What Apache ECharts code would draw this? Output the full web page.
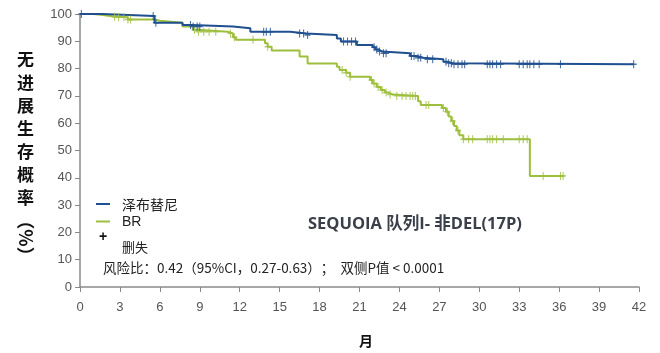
<!DOCTYPE html>
<html><head><meta charset="utf-8">
<script src="https://cdn.jsdelivr.net/npm/echarts@6/dist/echarts.min.js"></script>
<style>html,body{margin:0;padding:0;background:#fff}#c{width:660px;height:353px}</style>
</head><body><div id="c"></div>
<script>
// X axis ticks (months)
var xTicks = [0,3,6,9,12,15,18,21,24,27,30,33,36,39,42];
// Zanubrutinib KM events: time (months) and survival (%) after the step
var zanTimes = [0,1.7,5.6,7.7,8.4,11.5,12.8,15.8,17.0,19.3,19.6,20.8,22.0,22.2,22.4,22.7,24.8,25.3,25.8,27.3,27.6,28.0,41.6];
var zanSurv  = [100,99.3,96.8,96.0,95.4,94.8,93.5,92.9,92.3,91.0,89.9,88.6,87.8,87.0,86.3,85.6,84.6,84.0,83.4,82.5,82.0,81.6,81.6];
var zanCensor = [0.1,5.5,5.7,8.3,8.5,8.8,9.0,13.8,14.0,14.3,16.5,16.8,17.1,19.8,20.1,20.4,20.7,22.1,22.3,22.5,22.8,23.0,24.9,25.1,25.4,25.6,26.1,26.5,27.5,27.7,27.9,28.1,28.4,28.7,28.9,30.6,30.8,31.0,31.3,31.6,33.0,33.3,33.6,33.8,34.1,34.5,36.1,41.6];
// BR KM events
var brTimes = [0,1.0,1.7,2.7,3.6,5.6,6.0,7.7,8.5,8.8,11.1,11.5,11.7,13.9,14.1,14.4,16.5,17.1,19.3,19.5,20.0,20.3,21.8,22.0,22.3,22.6,22.9,23.2,23.5,25.4,25.6,27.2,27.5,27.7,27.9,28.1,28.3,28.5,28.8,33.8,36.4];
var brSurv  = [100,99.6,99.0,98.8,98.0,97.5,96.8,95.4,94.2,93.5,92.9,91.5,90.6,89.3,88.0,86.6,84.4,81.9,80.7,79.5,78.5,77.0,75.8,74.5,73.3,72.2,71.2,70.5,70.0,68.0,66.7,65.6,64.2,62.5,60.8,59.0,57.3,55.6,54.1,40.7,40.7];
var brCensor = [2.6,2.9,3.3,3.6,3.8,8.6,8.9,9.3,9.7,10.2,11.3,11.6,13.0,14.1,19.7,20.0,20.3,21.9,22.1,22.4,22.7,23.0,23.3,23.8,24.2,24.5,24.8,25.0,25.2,26.0,26.2,27.3,27.6,28.0,28.4,28.8,29.2,29.5,30.6,30.8,31.0,31.3,31.8,33.0,33.3,33.6,34.8,36.1,36.3];

var seriesNames = ['泽布替尼','BR'];
var colors = ['#1f4f8f','#9dbf3d'];

function pairs(t,s){return t.map(function(v,i){return [v,s[i]];});}
function at(t,times,surv){var v=surv[0];for(var i=0;i<times.length;i++){if(times[i]<=t)v=surv[i];}return v;}
function cens(c,times,surv){return c.map(function(t){return [t,at(t,times,surv)];});}

var plus = 'path://M-0.18,-1H0.18V-0.18H1V0.18H0.18V1H-0.18V0.18H-1V-0.18H-0.18Z';
var chart = echarts.init(document.getElementById('c'));
var axisCol = '#8a8a8a';
var lblCol = '#555';
chart.setOption({
  animation:false,
  grid:{left:80,right:21,top:14,bottom:66},
  xAxis:{type:'value',min:0,max:42,interval:3,
    axisLine:{lineStyle:{color:axisCol,width:1.5}},
    axisTick:{show:true,length:5,lineStyle:{color:axisCol}},
    axisLabel:{color:lblCol,fontSize:13,fontFamily:'Liberation Sans',margin:14,
      formatter:function(v){return xTicks.indexOf(v)>=0?String(v):'';}},
    splitLine:{show:false}},
  yAxis:{type:'value',min:0,max:100,interval:10,
    axisLine:{show:true,lineStyle:{color:axisCol,width:1.5}},
    axisTick:{show:true,length:5,lineStyle:{color:axisCol}},
    axisLabel:{color:lblCol,fontSize:13,fontFamily:'Liberation Sans',margin:8},
    splitLine:{show:false}},
  series:[
    {name:seriesNames[0],type:'line',step:'end',data:pairs(zanTimes,zanSurv),showSymbol:false,
      lineStyle:{color:colors[0],width:2},itemStyle:{color:colors[0]},z:3},
    {name:seriesNames[1],type:'line',step:'end',data:pairs(brTimes,brSurv),showSymbol:false,
      lineStyle:{color:colors[1],width:2},itemStyle:{color:colors[1]},z:2},
    {type:'scatter',data:cens(zanCensor,zanTimes,zanSurv),symbol:plus,symbolSize:[6,8],
      itemStyle:{color:colors[0]},z:4},
    {type:'scatter',data:cens(brCensor,brTimes,brSurv),symbol:plus,symbolSize:[6,8],
      itemStyle:{color:colors[1]},z:3}
  ],
  graphic:[
    {type:'text',left:17,top:48,style:{text:'无\n进\n展\n生\n存\n概\n率',font:'bold 17px "Noto Sans CJK SC"',lineHeight:23,fill:'#111'}},
    {type:'text',x:26,y:238,rotation:-Math.PI/2,style:{text:'（%）',font:'bold 18px "Noto Sans CJK SC"',fill:'#111',align:'center',verticalAlign:'middle'}},
    {type:'text',x:366,y:341,style:{text:'月',font:'bold 14px "Noto Sans CJK SC"',fill:'#111',align:'center',verticalAlign:'middle'}},
    {type:'line',shape:{x1:96,y1:204,x2:110,y2:204},style:{stroke:colors[0],lineWidth:2}},
    {type:'line',shape:{x1:96,y1:221.5,x2:110,y2:221.5},style:{stroke:colors[1],lineWidth:2}},
    {type:'text',x:103,y:237,style:{text:'+',font:'bold 14px "Liberation Sans"',fill:'#111',align:'center',verticalAlign:'middle'}},
    {type:'text',x:122,y:205,style:{text:'泽布替尼',font:'14px "Noto Sans CJK SC"',fill:'#222',verticalAlign:'middle'}},
    {type:'text',x:122,y:222,style:{text:'BR',font:'14px "Liberation Sans"',fill:'#222',verticalAlign:'middle'}},
    {type:'text',x:122,y:247,style:{text:'删失',font:'13px "Noto Sans CJK SC"',fill:'#222',verticalAlign:'middle'}},
    {type:'text',x:103,y:268,style:{text:'风险比：0.42（95%CI，0.27-0.63）；  双侧P值 < 0.0001',font:'13.5px "Noto Sans CJK SC"',fill:'#222',verticalAlign:'middle'}},
    {type:'text',x:308,y:224,style:{text:'SEQUOIA 队列I- 非DEL(17P)',font:'bold 16.5px "Open Sans", "Noto Sans CJK SC"',fill:'#3a3f4a',verticalAlign:'middle'}}
  ]
});
</script></body></html>
